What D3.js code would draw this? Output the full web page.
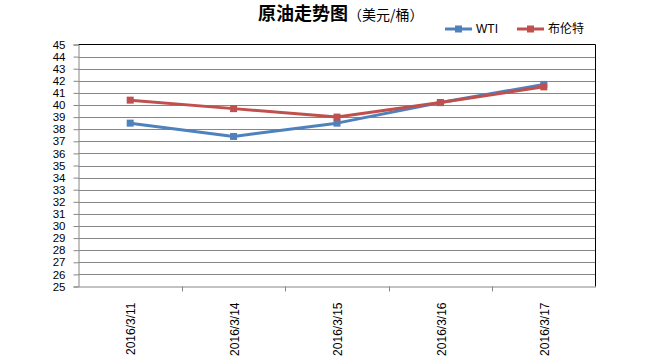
<!DOCTYPE html>
<html><head><meta charset="utf-8">
<script src="https://cdn.jsdelivr.net/npm/d3@7/dist/d3.min.js"></script>
<style>body{margin:0;background:#fff}svg{display:block}</style>
</head><body><svg id="c" width="650" height="360"></svg>
<script>
const categories = ["2016/3/11","2016/3/14","2016/3/15","2016/3/16","2016/3/17"];
const wti = [38.5, 37.4, 38.5, 40.2, 41.7];
const brent = [40.4, 39.7, 39.0, 40.2, 41.5];
const seriesNames = ["WTI","布伦特"];
const colors = ["#4F81BD","#C0504D"];
const yTicks = d3.range(25, 46, 1);

const svg = d3.select("#c");
const L = 78.5, R = 595.5, T = 44.5, B = 286.5;
const x = d3.scaleBand().domain(categories).range([L, R]);
const y = d3.scaleLinear().domain([25, 45]).range([B, T]);
const font = "'Liberation Sans', Arial, sans-serif";

// grid
svg.append("g").selectAll("line").data(yTicks.filter(v=>v>25 && v<45)).join("line")
  .attr("x1", L).attr("x2", R).attr("y1", d=>Math.round(y(d))+0.5).attr("y2", d=>Math.round(y(d))+0.5)
  .attr("stroke", "#868686").attr("stroke-width", 1);
// border top/right
svg.append("path").attr("d", `M${L},${T}H${R}V${B}`).attr("fill","none").attr("stroke","#000").attr("stroke-width",1);

// y axis
const yAxis = d3.axisLeft(y).tickValues(yTicks).tickSize(5).tickPadding(8).tickFormat(d3.format("d"));
const gy = svg.append("g").attr("transform", `translate(${L},0)`).call(yAxis);
gy.select(".domain").attr("stroke", "#868686");
gy.selectAll(".tick line").attr("stroke", "#868686");
gy.selectAll("text").attr("font-family", font).attr("font-size", 11.5).attr("fill", "#000");

// x axis
const xAxis = d3.axisBottom(x).tickSize(0).tickFormat(d=>d);
const gx = svg.append("g").attr("transform", `translate(0,${B})`).call(xAxis);
gx.select(".domain").attr("stroke", "#868686");
gx.selectAll(".tick text").attr("font-family", font).attr("font-size", 12).attr("fill","#000")
  .attr("text-anchor","end").attr("transform","rotate(-90)").attr("x", -16).attr("y", 1).attr("dy","0.35em").attr("dx", 0);
// x tick marks at band boundaries
svg.append("g").selectAll("line").data(categories.slice(1)).join("line")
  .attr("x1", d=>Math.round(x(d))+0.5).attr("x2", d=>Math.round(x(d))+0.5)
  .attr("y1", B).attr("y2", B+5).attr("stroke","#868686");

// series
const line = d3.line().x((d,i)=>x(categories[i])+x.bandwidth()/2).y(d=>y(d));
[wti, brent].forEach((s, k)=>{
  svg.append("path").datum(s).attr("d", line).attr("fill","none").attr("stroke", colors[k]).attr("stroke-width", 3).attr("stroke-linejoin","round");
  svg.append("g").selectAll("rect").data(s).join("rect")
    .attr("x", (d,i)=>x(categories[i])+x.bandwidth()/2-3.5).attr("y", d=>y(d)-3.5)
    .attr("width", 7).attr("height", 7).attr("fill", colors[k]);
});

// title
const title = svg.append("text").attr("x", 258).attr("y", 20).attr("text-anchor","start").attr("font-family","'Noto Sans CJK SC', sans-serif");
title.append("tspan").attr("font-size", 18).attr("font-weight","bold").text("原油走势图");
title.append("tspan").attr("font-size", 14).text("（美元/桶）");

// legend
const legX = [445, 517];
seriesNames.forEach((n,k)=>{
  const g = svg.append("g").attr("transform", `translate(${legX[k]},29)`);
  g.append("line").attr("x1",0).attr("x2",27).attr("stroke",colors[k]).attr("stroke-width",3);
  g.append("rect").attr("x",10).attr("y",-3.5).attr("width",7).attr("height",7).attr("fill",colors[k]);
  g.append("text").attr("x",31).attr("y",0).attr("dy","0.35em").attr("font-family", k===0?font:"'Noto Sans CJK SC', sans-serif").attr("font-size",12).text(n);
});
</script></body></html>
